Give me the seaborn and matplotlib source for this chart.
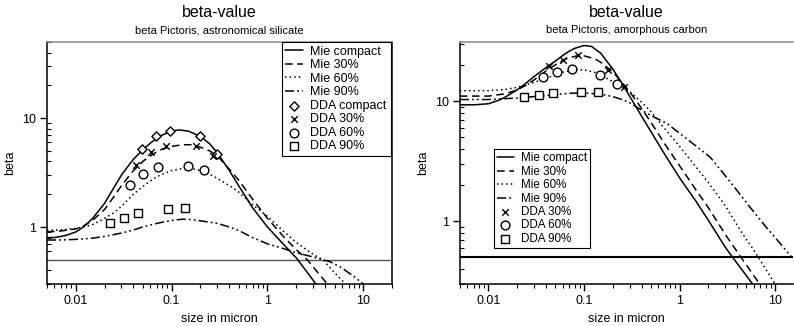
import numpy as np
import pandas as pd
import matplotlib
matplotlib.use("Agg")
import matplotlib.pyplot as plt
from matplotlib.ticker import FuncFormatter, LogLocator, NullFormatter
from matplotlib.transforms import ScaledTranslation
import seaborn as sns

# ---- astronomical silicate (left panel) ----
sil_mie_compact_x = [0.005, 0.006, 0.007, 0.008, 0.01, 0.012, 0.015, 0.02, 0.025, 0.03, 0.035, 0.04, 0.05, 0.06, 0.07,
                     0.08, 0.1, 0.12, 0.15, 0.2, 0.25, 0.3, 0.4, 0.5, 0.7, 1, 1.5, 2, 3.2]
sil_mie_compact_y = [0.80, 0.80, 0.82, 0.84, 0.90, 1.0, 1.2, 1.65, 2.3, 3.0, 3.6, 4.2, 5.1, 5.9, 6.5,
                     7.0, 7.6, 7.8, 7.6, 6.8, 5.8, 4.8, 3.3, 2.4, 1.5, 1.0, 0.68, 0.52, 0.3]
sil_mie_30_x = [0.005, 0.007, 0.01, 0.012, 0.015, 0.02, 0.025, 0.03, 0.04, 0.05, 0.06, 0.07, 0.08, 0.1, 0.13,
                0.16, 0.2, 0.25, 0.3, 0.4, 0.5, 0.7, 1, 1.5, 2, 2.6, 4.2]
sil_mie_30_y = [0.90, 0.92, 0.96, 1.02, 1.15, 1.45, 1.9, 2.4, 3.3, 4.0, 4.5, 4.9, 5.2, 5.5, 5.7,
                5.7, 5.4, 5.0, 4.5, 3.4, 2.7, 1.8, 1.2, 0.8, 0.62, 0.5, 0.3]
sil_mie_60_x = [0.005, 0.007, 0.01, 0.015, 0.02, 0.025, 0.03, 0.04, 0.05, 0.06, 0.07, 0.08, 0.1, 0.13, 0.16,
                0.2, 0.25, 0.3, 0.4, 0.5, 0.7, 1, 1.5, 2, 3, 3.8, 5, 6.5]
sil_mie_60_y = [0.93, 0.94, 0.97, 1.05, 1.2, 1.35, 1.55, 2.0, 2.35, 2.65, 2.9, 3.05, 3.3, 3.45, 3.45,
                3.3, 3.05, 2.8, 2.4, 2.1, 1.6, 1.25, 0.9, 0.72, 0.56, 0.5, 0.38, 0.3]
sil_mie_90_x = [0.005, 0.007, 0.01, 0.015, 0.02, 0.03, 0.04, 0.05, 0.07, 0.1, 0.13, 0.16, 0.2, 0.3, 0.4,
                0.5, 0.7, 1, 1.5, 2, 3, 4.5, 6, 8, 10]
sil_mie_90_y = [0.76, 0.76, 0.77, 0.79, 0.82, 0.88, 0.94, 1.0, 1.08, 1.15, 1.18, 1.17, 1.14, 1.08, 1.0,
                0.93, 0.80, 0.70, 0.63, 0.58, 0.53, 0.48, 0.42, 0.35, 0.3]

sil_dda_compact_x = [0.049, 0.068, 0.097, 0.20, 0.30]
sil_dda_compact_y = [5.2, 6.8, 7.6, 6.8, 4.7]
sil_dda_30_x = [0.043, 0.061, 0.088, 0.18, 0.27]
sil_dda_30_y = [3.75, 4.9, 5.6, 5.5, 4.5]
sil_dda_60_x = [0.037, 0.050, 0.073, 0.149, 0.22]
sil_dda_60_y = [2.45, 3.08, 3.54, 3.67, 3.32]
sil_dda_90_x = [0.0226, 0.032, 0.045, 0.091, 0.139]
sil_dda_90_y = [1.10, 1.22, 1.34, 1.46, 1.51]

# ---- amorphous carbon (right panel) ----
car_mie_compact_x = [0.005, 0.007, 0.01, 0.013, 0.015, 0.02, 0.025, 0.03, 0.04, 0.05, 0.06, 0.07, 0.08, 0.1,
                     0.12, 0.15, 0.2, 0.25, 0.3, 0.4, 0.5, 0.7, 1, 1.5, 2, 3, 3.6, 6]
car_mie_compact_y = [9.3, 9.3, 9.5, 10.2, 10.8, 12.4, 14.2, 16.0, 19.0, 21.5, 24.0, 26.0, 27.5, 29.0,
                     28.5, 25.0, 18.5, 14.0, 11.0, 7.5, 5.6, 3.6, 2.3, 1.45, 1.02, 0.61, 0.5, 0.29]
car_mie_30_x = [0.005, 0.01, 0.015, 0.02, 0.025, 0.03, 0.04, 0.05, 0.06, 0.07, 0.085, 0.1, 0.13, 0.15,
                0.2, 0.25, 0.3, 0.4, 0.5, 0.7, 1, 1.5, 2, 3, 4.4, 6.9]
car_mie_30_y = [11.0, 11.0, 11.5, 12.4, 13.6, 15.0, 17.8, 20.0, 21.8, 23.0, 23.8, 23.8, 22.5, 21.0,
                17.5, 14.3, 12.0, 8.7, 6.7, 4.4, 2.9, 1.8, 1.3, 0.78, 0.5, 0.3]
car_mie_60_x = [0.005, 0.01, 0.015, 0.02, 0.03, 0.04, 0.05, 0.06, 0.08, 0.1, 0.13, 0.15, 0.2, 0.3,
                0.4, 0.5, 0.7, 1, 1.5, 2, 3, 4.5, 6.2, 10]
car_mie_60_y = [12.2, 12.2, 12.5, 13.0, 14.3, 15.5, 16.5, 17.4, 18.2, 18.2, 17.3, 16.5, 14.5, 12.0,
                9.8, 8.2, 5.9, 4.2, 2.8, 2.1, 1.35, 0.8, 0.55, 0.3]
car_mie_90_x = [0.005, 0.01, 0.02, 0.03, 0.05, 0.07, 0.1, 0.15, 0.2, 0.25, 0.3, 0.4, 0.5, 0.74, 1,
                1.5, 2.1, 3, 4, 5.5, 8, 11, 15]
car_mie_90_y = [10.3, 10.3, 10.6, 10.9, 11.3, 11.6, 11.7, 11.4, 10.9, 10.3, 9.7, 8.4, 7.6, 6.5, 5.4,
                4.2, 3.4, 2.4, 1.8, 1.3, 0.9, 0.67, 0.5]

car_dda_30_x = [0.0425, 0.060, 0.087, 0.177, 0.26]
car_dda_30_y = [19.6, 22.0, 24.2, 18.1, 13.0]
car_dda_60_x = [0.037, 0.052, 0.074, 0.148, 0.22]
car_dda_60_y = [15.9, 17.5, 18.5, 16.5, 14.0]
car_dda_90_x = [0.0235, 0.0337, 0.047, 0.093, 0.141]
car_dda_90_y = [10.9, 11.2, 11.6, 11.9, 11.9]

beta_limit = 0.5

sns.set_theme(style="ticks")
plt.rcParams["font.family"] = ["Liberation Sans", "DejaVu Sans"]
plt.rcParams["text.color"] = "black"
plt.rcParams["axes.labelcolor"] = "black"
plt.rcParams["xtick.color"] = "black"
plt.rcParams["ytick.color"] = "black"

line_styles = {"Mie compact": "-", "Mie 30%": (0, (5, 3)),
               "Mie 60%": (0, (1, 2)), "Mie 90%": (0, (6, 2, 1.2, 2, 1.2, 2))}
marker_styles = {"DDA compact": ("D", 22), "DDA 30%": ("x", 22),
                 "DDA 60%": ("o", 40), "DDA 90%": ("s", 30)}

fig = plt.figure(figsize=(7.94, 3.26), dpi=100)
ax1 = fig.add_axes([0.059, 0.129, 0.435, 0.742])
ax2 = fig.add_axes([0.579, 0.129, 0.42, 0.742])


def draw_panel(ax, curves, points, xlim, ylim, limit_color, limit_lw):
    ax.set_xscale("log")
    ax.set_yscale("log")
    for label, (xs, ys) in curves.items():
        sns.lineplot(x=xs, y=ys, ax=ax, color="black", linewidth=1.1,
                     linestyle=line_styles[label], label=label, sort=False)
    ax.axhline(beta_limit, color=limit_color, linewidth=limit_lw, zorder=1)
    for label, (xs, ys) in points.items():
        m, s = marker_styles[label]
        if m == "x":
            sns.scatterplot(x=xs, y=ys, ax=ax, marker="x", s=s, color="black",
                            linewidth=1.0, label=label, zorder=5)
        else:
            sns.scatterplot(x=xs, y=ys, ax=ax, marker=m, s=s, facecolor="white",
                            edgecolor="black", linewidth=1.0, label=label, zorder=5)
    ax.set_xlim(*xlim)
    ax.set_ylim(*ylim)
    ax.set_xlabel("size in micron", fontsize=9)
    ax.set_ylabel("beta", fontsize=9)
    fmt = FuncFormatter(lambda v, p: "%g" % v)
    ax.xaxis.set_major_formatter(fmt)
    ax.yaxis.set_major_formatter(fmt)
    ax.xaxis.set_minor_locator(LogLocator(base=10, subs=np.arange(2, 10)))
    ax.yaxis.set_minor_locator(LogLocator(base=10, subs=np.arange(2, 10)))
    ax.xaxis.set_minor_formatter(NullFormatter())
    ax.yaxis.set_minor_formatter(NullFormatter())
    ax.tick_params(axis="both", which="major", labelsize=9, direction="out",
                   length=5, width=1, color="black", pad=3)
    ax.tick_params(axis="x", which="minor", direction="out", length=3, width=0.8)
    ax.tick_params(axis="y", which="minor", direction="in", length=3, width=0.8)
    for side in ("left", "bottom", "right"):
        ax.spines[side].set_color("black")
        ax.spines[side].set_linewidth(1.1)
    ax.spines["top"].set_color("#8a8a8a")
    ax.spines["top"].set_linewidth(1.1)


draw_panel(ax1,
           {"Mie compact": (sil_mie_compact_x, sil_mie_compact_y),
            "Mie 30%": (sil_mie_30_x, sil_mie_30_y),
            "Mie 60%": (sil_mie_60_x, sil_mie_60_y),
            "Mie 90%": (sil_mie_90_x, sil_mie_90_y)},
           {"DDA compact": (sil_dda_compact_x, sil_dda_compact_y),
            "DDA 30%": (sil_dda_30_x, sil_dda_30_y),
            "DDA 60%": (sil_dda_60_x, sil_dda_60_y),
            "DDA 90%": (sil_dda_90_x, sil_dda_90_y)},
           (0.005, 20), (0.3, 50), "#555555", 1.0)

draw_panel(ax2,
           {"Mie compact": (car_mie_compact_x, car_mie_compact_y),
            "Mie 30%": (car_mie_30_x, car_mie_30_y),
            "Mie 60%": (car_mie_60_x, car_mie_60_y),
            "Mie 90%": (car_mie_90_x, car_mie_90_y)},
           {"DDA 30%": (car_dda_30_x, car_dda_30_y),
            "DDA 60%": (car_dda_60_x, car_dda_60_y),
            "DDA 90%": (car_dda_90_x, car_dda_90_y)},
           (0.005, 15.5), (0.3, 31), "black", 1.5)
ax2.spines["right"].set_visible(False)

leg_kw = dict(frameon=True, fancybox=False, edgecolor="black",
              framealpha=1, handlelength=1.4, handletextpad=0.6,
              labelspacing=0.12, borderpad=0.3, borderaxespad=0)
leg1 = ax1.legend(loc="upper right", bbox_to_anchor=(0.995, 1.0), fontsize=9, **leg_kw)
leg2 = ax2.legend(loc="upper left", bbox_to_anchor=(0.102, 0.558), fontsize=8.4, **leg_kw)
for leg in (leg1, leg2):
    leg.get_frame().set_linewidth(0.8)

# titles: main title and subtitle, offset in points above each axes
for ax, sub in ((ax1, "beta Pictoris, astronomical silicate"),
                (ax2, "beta Pictoris, amorphous carbon")):
    ax.text(0.5, 1.0, "beta-value", ha="center", va="bottom", fontsize=11.5,
            transform=ax.transAxes + ScaledTranslation(0, 16 / 72, fig.dpi_scale_trans))
    ax.text(0.5, 1.0, sub, ha="center", va="bottom", fontsize=8,
            transform=ax.transAxes + ScaledTranslation(0, 5 / 72, fig.dpi_scale_trans))

fig.savefig("out.png", dpi=100)
